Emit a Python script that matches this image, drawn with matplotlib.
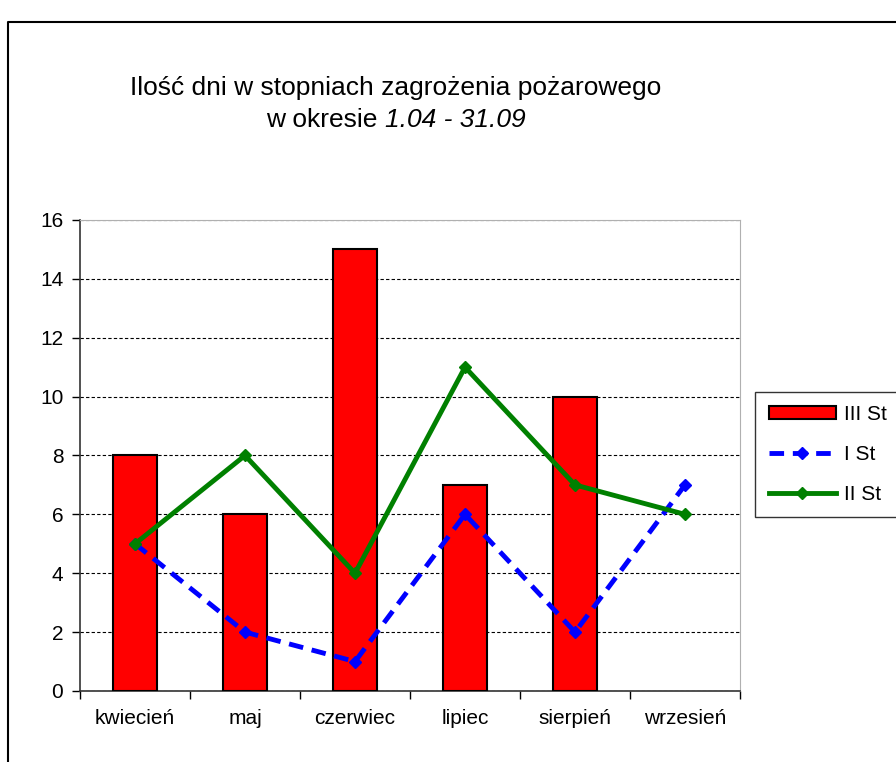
import numpy as np
import matplotlib.pyplot as plt
from matplotlib.lines import Line2D

plt.rcParams['font.family'] = ['Liberation Sans', 'DejaVu Sans']

miesiace = ["kwiecień", "maj", "czerwiec", "lipiec", "sierpień", "wrzesień"]
st_III = [8, 6, 15, 7, 10, np.nan]   # brak słupka we wrześniu
st_I = [5, 2, 1, 6, 2, 7]
st_II = [5, 8, 4, 11, 7, 6]

x = np.arange(len(miesiace))

fig = plt.figure(figsize=(8.96, 7.62), dpi=100)
ax = fig.add_axes([0.0893, 0.0932, 0.7366, 0.6181])

# słupki - III stopień
h3 = ax.bar(x, st_III, width=0.4, color='#ff0000', edgecolor='black', linewidth=1.5,
            label='III St', zorder=3)
# linie - I i II stopień
h1, = ax.plot(x, st_I, color='#0000ff', linestyle=(0, (3, 1.8)), linewidth=3.5,
              marker='D', markersize=6, label='I St', zorder=4)
h2, = ax.plot(x, st_II, color='#008000', linewidth=3.5,
              marker='D', markersize=6, label='II St', zorder=4)

ax.set_xlim(-0.5, len(miesiace) - 0.5)
ax.set_ylim(0, 16)
ax.set_yticks(range(0, 17, 2))
ax.set_xticks(x)
ax.set_xticklabels(miesiace)
ax.set_xticks(np.arange(-0.5, len(miesiace)), minor=True)
ax.tick_params(axis='x', which='major', length=0, pad=13, labelsize=15)
ax.tick_params(axis='x', which='minor', length=6, width=1, direction='out')
ax.tick_params(axis='y', length=6, width=1, direction='out', pad=6, labelsize=15)

ax.grid(axis='y', color='black', linestyle=(0, (3, 2)), linewidth=0.8, zorder=0)
ax.spines['top'].set_color('#b0b0b0')
ax.spines['right'].set_color('#b0b0b0')
ax.spines['left'].set_linewidth(1.2)
ax.spines['bottom'].set_linewidth(1.2)
ax.spines['left'].set_color('#333333')
ax.spines['bottom'].set_color('#333333')

leg = fig.legend([h3, h1, h2], ['III St', 'I St', 'II St'],
                 loc='upper left', bbox_to_anchor=(0.843, 0.486),
                 fontsize=15, frameon=True, fancybox=False, edgecolor='black',
                 handlelength=3.2, handleheight=0.6, labelspacing=1.0,
                 handletextpad=0.4, borderpad=0.65, borderaxespad=0)
leg.get_frame().set_linewidth(1.0)

# tytuł
fig.text(0.442, 0.885, 'Ilość dni w stopniach zagrożenia pożarowego',
         ha='center', va='center', fontsize=19)
t1 = fig.text(0.0, 0.843, 'w okresie ', ha='left', va='center', fontsize=19)
t2 = fig.text(0.0, 0.843, '1.04 - 31.09', ha='left', va='center', fontsize=19,
              style='italic')
fig.canvas.draw()
r = fig.canvas.get_renderer()
w1 = t1.get_window_extent(r).width / fig.bbox.width
w2 = t2.get_window_extent(r).width / fig.bbox.width
start = 0.442 - (w1 + w2) / 2
t1.set_x(start)
t2.set_x(start + w1)

# ramka wykresu
fig.add_artist(Line2D([0.009, 0.009, 1.0], [0.0, 0.971, 0.971],
                      transform=fig.transFigure, color='black', linewidth=1.5))

fig.savefig('out.png', dpi=100)
